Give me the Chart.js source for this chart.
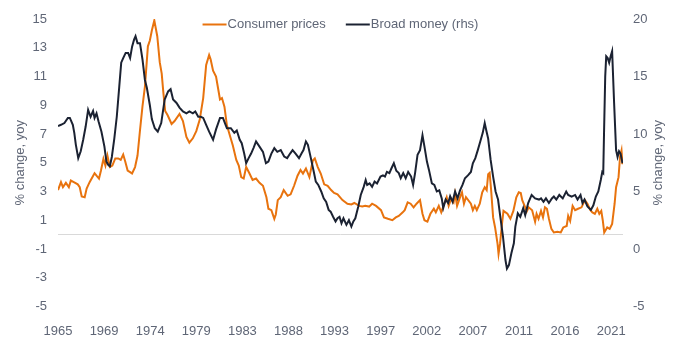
<!DOCTYPE html>
<html><head><meta charset="utf-8">
<script src="https://cdn.jsdelivr.net/npm/chart.js@4.4.1/dist/chart.umd.min.js"></script>
<style>html,body{margin:0;padding:0;background:#fff;}#wrap{width:680px;height:344px;position:relative;}</style>
</head><body><div id="wrap"><canvas id="c" width="680" height="344"></canvas></div>
<script>
const cpiYears = [1965.0,1965.3,1965.5,1965.8,1966.1,1966.3,1966.6,1967.0,1967.2,1967.4,1967.7,1967.9,1968.2,1968.7,1968.9,1969.15,1969.35,1969.6,1969.8,1970.0,1970.25,1970.5,1970.8,1971.1,1971.35,1971.6,1971.8,1972.05,1972.3,1972.5,1972.8,1973.05,1973.3,1973.55,1973.8,1974.1,1974.3,1974.5,1974.75,1975.05,1975.3,1975.5,1975.65,1975.85,1976.1,1976.5,1976.8,1977.3,1977.65,1978.0,1978.3,1978.65,1979.0,1979.35,1979.7,1980.0,1980.3,1980.45,1980.7,1981.0,1981.2,1981.4,1981.6,1981.85,1982.1,1982.4,1982.7,1983.05,1983.3,1983.55,1983.8,1984.05,1984.35,1984.7,1985.05,1985.4,1985.75,1986.1,1986.3,1986.6,1986.9,1987.05,1987.25,1987.55,1987.85,1988.25,1988.55,1988.9,1989.25,1989.55,1989.8,1990.1,1990.45,1990.8,1991.0,1991.3,1991.6,1991.95,1992.3,1992.65,1992.95,1993.3,1993.8,1994.3,1994.7,1995.0,1995.5,1995.8,1996.1,1996.5,1996.8,1997.2,1997.7,1998.0,1998.4,1998.85,1999.2,1999.5,1999.9,2000.1,2000.4,2000.7,2001.0,2001.3,2001.65,2001.9,2002.1,2002.4,2002.7,2003.05,2003.25,2003.55,2003.8,2004.1,2004.35,2004.55,2004.8,2005.05,2005.2,2005.4,2005.75,2005.9,2006.1,2006.3,2006.8,2007.0,2007.2,2007.4,2007.7,2007.95,2008.2,2008.4,2008.55,2008.7,2008.85,2009.05,2009.25,2009.5,2009.6,2009.75,2009.95,2010.1,2010.5,2010.8,2011.1,2011.4,2011.65,2011.85,2012.0,2012.3,2012.45,2012.65,2013.0,2013.3,2013.45,2013.65,2013.9,2014.1,2014.3,2014.5,2014.7,2014.95,2015.2,2015.55,2015.9,2016.15,2016.5,2016.65,2016.85,2017.1,2017.35,2017.65,2018.0,2018.35,2018.6,2018.9,2019.1,2019.35,2019.6,2019.8,2020.0,2020.15,2020.3,2020.6,2020.85,2021.1,2021.35,2021.5,2021.75,2021.9,2022.05,2022.15];
const cpiValues = [3.1,3.65,3.3,3.6,3.3,3.76,3.65,3.5,3.3,2.65,2.6,3.2,3.65,4.27,4.1,3.9,4.46,5.27,4.8,5.5,4.7,4.8,5.3,5.3,5.2,5.57,5.1,4.46,4.35,4.25,4.7,5.5,7.25,8.9,10.3,13.1,13.5,14.2,14.9,13.8,12.0,11.2,10.0,8.6,8.3,7.7,7.9,8.4,7.9,6.8,6.4,6.7,7.2,8.0,9.5,11.8,12.5,12.2,11.4,11.0,10.2,9.4,9.5,8.9,7.6,6.9,6.2,5.2,4.8,4.0,3.9,4.7,4.3,3.8,3.9,3.6,3.4,2.6,1.8,1.7,1.1,1.4,2.4,2.6,3.1,2.7,2.8,3.4,4.1,4.5,4.25,4.6,4.0,5.15,5.3,4.7,4.25,3.5,3.4,3.1,2.9,2.8,2.4,2.15,2.1,2.2,2.0,1.95,2.0,1.95,2.15,2.0,1.7,1.2,1.1,1.0,1.2,1.3,1.55,1.7,2.25,2.15,1.9,2.15,2.4,1.45,1.0,0.9,1.45,1.8,1.55,2.0,1.55,2.15,2.6,2.0,2.5,2.25,2.85,2.0,2.7,2.95,2.15,2.6,2.15,1.7,2.0,1.7,2.15,2.95,3.3,3.1,4.2,4.3,3.1,1.2,0.5,-0.65,-1.35,-0.65,0.75,1.65,1.45,1.1,1.65,2.6,2.95,2.9,2.4,1.9,1.6,1.9,1.7,0.9,1.45,1.1,1.65,1.2,1.9,1.8,1.1,0.4,0.15,0.2,0.15,0.5,0.6,1.3,0.95,2.0,1.7,1.8,1.9,2.4,2.15,1.7,1.55,1.45,1.8,1.45,1.65,1.0,0.15,0.5,0.4,0.75,2.15,3.3,4.0,5.4,5.85,4.9];
const moneyYears = [1965.0,1965.3,1965.65,1966.0,1966.2,1966.5,1966.65,1966.8,1967.05,1967.3,1967.55,1967.8,1968.05,1968.3,1968.55,1968.7,1968.9,1969.1,1969.4,1969.7,1969.9,1970.1,1970.25,1970.45,1970.7,1970.95,1971.2,1971.4,1971.6,1971.85,1972.1,1972.3,1972.5,1972.7,1972.85,1973.05,1973.3,1973.55,1973.8,1974.0,1974.3,1974.5,1974.8,1975.1,1975.45,1975.8,1976.15,1976.4,1976.65,1977.0,1977.3,1977.65,1978.0,1978.3,1978.65,1978.9,1979.2,1979.45,1979.7,1980.0,1980.3,1980.7,1981.0,1981.4,1981.7,1981.9,1982.1,1982.5,1982.85,1983.1,1983.4,1983.6,1983.85,1984.05,1984.3,1984.55,1984.8,1985.05,1985.4,1985.75,1986.05,1986.3,1986.6,1986.9,1987.2,1987.55,1987.9,1988.2,1988.5,1988.75,1989.05,1989.4,1989.65,1989.85,1990.1,1990.3,1990.6,1990.9,1991.1,1991.35,1991.65,1991.9,1992.15,1992.4,1992.6,1992.85,1993.1,1993.3,1993.5,1993.7,1993.9,1994.2,1994.45,1994.7,1994.9,1995.1,1995.4,1995.65,1995.95,1996.15,1996.3,1996.55,1996.8,1997.05,1997.3,1997.65,1997.9,1998.1,1998.3,1998.55,1998.75,1999.0,1999.25,1999.5,1999.7,1999.95,2000.2,2000.45,2000.75,2000.95,2001.15,2001.4,2001.65,2001.9,2002.1,2002.35,2002.55,2002.85,2003.1,2003.35,2003.6,2003.85,2004.0,2004.25,2004.5,2004.7,2004.95,2005.2,2005.45,2005.7,2005.95,2006.2,2006.5,2006.8,2007.0,2007.25,2007.5,2007.75,2008.0,2008.2,2008.35,2008.55,2008.8,2009.05,2009.3,2009.55,2009.8,2010.05,2010.3,2010.45,2010.65,2010.9,2011.15,2011.3,2011.55,2011.8,2012.1,2012.3,2012.6,2012.95,2013.3,2013.7,2013.9,2014.15,2014.4,2014.7,2015.0,2015.2,2015.45,2015.75,2016.1,2016.45,2016.65,2017.0,2017.35,2017.6,2017.9,2018.1,2018.3,2018.6,2018.95,2019.2,2019.45,2019.7,2019.95,2020.1,2020.2,2020.28,2020.4,2020.5,2020.65,2020.8,2020.95,2021.1,2021.3,2021.5,2021.65,2021.8,2021.95,2022.15];
const moneyValues = [10.7,10.8,10.95,11.4,11.4,10.8,10.1,9.1,7.9,8.5,9.5,10.65,12.1,11.5,12.0,11.4,11.8,11.1,10.2,8.9,7.6,7.3,7.2,8.0,9.6,11.5,14.1,16.2,16.6,17.05,17.05,16.6,17.6,18.2,18.5,17.9,17.9,16.5,14.7,14.0,12.5,11.3,10.5,10.2,10.95,13.0,13.7,13.9,13.0,12.7,12.3,11.96,11.8,11.96,11.8,11.96,11.5,11.5,11.4,10.8,10.2,9.5,10.4,11.4,11.4,10.95,10.5,10.5,10.1,10.3,9.5,9.2,8.3,7.46,7.9,8.3,8.8,9.35,8.9,8.45,7.46,7.6,8.3,8.77,8.45,8.6,8.04,7.9,8.3,8.6,8.3,7.9,8.3,8.6,9.35,9.06,7.9,6.7,5.86,5.57,5.0,4.4,4.1,3.4,3.25,2.8,2.4,2.67,2.8,2.24,2.67,2.1,2.5,1.95,2.4,2.67,3.7,4.7,5.4,6.0,5.57,5.7,5.4,5.86,5.7,6.3,6.4,6.3,6.7,6.6,7.0,7.46,6.8,6.6,6.15,6.6,6.15,6.7,6.3,5.57,6.6,8.2,8.6,9.9,8.9,7.6,6.9,5.7,5.57,5.0,5.1,4.4,3.55,4.3,4.0,4.6,4.1,5.0,4.4,5.1,5.57,6.15,6.4,6.7,7.46,7.9,8.6,9.35,10.1,10.95,10.35,9.6,7.75,6.3,5.0,4.3,2.67,1.07,-0.96,-1.7,-1.4,-0.37,0.5,1.94,3.1,2.8,3.55,2.95,4.0,4.7,4.4,4.3,4.4,4.1,4.4,4.0,4.4,4.56,4.3,4.7,4.4,5.0,4.7,4.56,4.7,4.3,4.7,4.0,4.3,3.7,3.4,3.8,4.56,5.0,6.0,6.7,6.6,10.1,15.0,16.75,16.6,16.2,16.75,17.2,12.7,8.6,8.0,8.5,8.3,7.46];
const xTickLabels = ['1965','1969','1974','1979','1983','1988','1993','1997','2002','2007','2011','2016','2021'];
const leftTicks = [-5,-3,-1,0,1,3,5,7,9,11,13,15];
const rightTicks = [-5,0,5,10,15,20];
const seriesNames = ['Consumer prices','Broad money (rhs)'];
const axisTitle = '% change, yoy';

const FONT = '"Liberation Sans", Arial, sans-serif';
const TXT = '#5f6676';
const ORANGE = '#e8730e';
const NAVY = '#1b2232';

const toPts = (xs, ys) => xs.map((x, i) => ({x: x, y: ys[i]}));

const overlay = {
  id: 'overlay',
  afterDraw(chart) {
    const ctx = chart.ctx, ca = chart.chartArea;
    ctx.save();
    ctx.font = '13px ' + FONT;
    ctx.fillStyle = TXT;
    // right axis title (reads bottom-to-top)
    ctx.save();
    ctx.translate(658, (ca.top + ca.bottom) / 2);
    ctx.rotate(-Math.PI / 2);
    ctx.textAlign = 'center';
    ctx.textBaseline = 'middle';
    ctx.fillText(axisTitle, 0, 0);
    ctx.restore();
    // legend
    const ds = chart.data.datasets;
    const lineW = 24, gapT = 1, gapI = 20;
    const widths = ds.map(d => lineW + gapT + ctx.measureText(d.label).width);
    const total = widths.reduce((a, b) => a + b, 0) + gapI * (ds.length - 1);
    let x = (ca.left + ca.right) / 2 - total / 2;
    const y = 24.5;
    ds.forEach((d, i) => {
      ctx.strokeStyle = d.borderColor;
      ctx.lineWidth = 2;
      ctx.beginPath(); ctx.moveTo(x, y); ctx.lineTo(x + lineW, y); ctx.stroke();
      ctx.textAlign = 'left'; ctx.textBaseline = 'middle';
      ctx.fillStyle = TXT;
      ctx.fillText(d.label, x + lineW + gapT, y);
      x += widths[i] + gapI;
    });
    ctx.restore();
  }
};

new Chart(document.getElementById('c'), {
  type: 'line',
  data: {
    datasets: [
      {label: seriesNames[0], data: toPts(cpiYears, cpiValues), yAxisID: 'y', borderColor: ORANGE, backgroundColor: ORANGE, borderWidth: 2, pointRadius: 0, tension: 0, order: 1},
      {label: seriesNames[1], data: toPts(moneyYears, moneyValues), yAxisID: 'y1', borderColor: NAVY, backgroundColor: NAVY, borderWidth: 2, pointRadius: 0, tension: 0, order: 0}
    ]
  },
  options: {
    responsive: false,
    animation: false,
    devicePixelRatio: 1,
    layout: {padding: {top: 19, left: 0, right: 0, bottom: 0}},
    plugins: {legend: {display: false}, tooltip: {enabled: false}},
    scales: {
      x: {
        type: 'linear', min: 1965, max: 2022.2,
        grid: {display: false}, border: {display: false},
        afterBuildTicks: s => { s.ticks = xTickLabels.map((t, i) => ({value: 1965 + i * 56 / 12})); },
        afterFit: s => { s.height = 37.5; },
        ticks: {autoSkip: false, maxRotation: 0, padding: 9, color: TXT, font: {family: FONT, size: 13},
          callback: (v, i) => xTickLabels[i]}
      },
      y: {
        position: 'left', min: -5, max: 15,
        border: {display: false},
        grid: {drawTicks: false, color: c => (c.tick && c.tick.value === 0) ? '#d9d9d9' : 'rgba(0,0,0,0)', lineWidth: 1},
        afterBuildTicks: s => { s.ticks = leftTicks.map(v => ({value: v})); },
        afterFit: s => { s.width = 58; },
        ticks: {padding: 11, color: TXT, font: {family: FONT, size: 13}, callback: v => v === 0 ? '' : String(v)},
        title: {display: true, text: axisTitle, color: TXT, font: {family: FONT, size: 13}, padding: {top: 13, bottom: 0}}
      },
      y1: {
        position: 'right', min: -5, max: 20,
        border: {display: false},
        grid: {display: false, drawTicks: false},
        afterBuildTicks: s => { s.ticks = rightTicks.map(v => ({value: v})); },
        afterFit: s => { s.width = 57; },
        ticks: {padding: 10, color: TXT, font: {family: FONT, size: 13}}
      }
    }
  },
  plugins: [overlay]
});
</script></body></html>
